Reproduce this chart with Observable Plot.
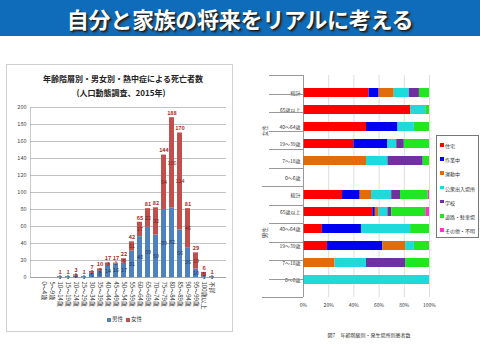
<!DOCTYPE html>
<html><head><meta charset="utf-8">
<script src="https://cdn.jsdelivr.net/npm/d3@7"></script>
<script src="https://cdn.jsdelivr.net/npm/@observablehq/plot@0.6"></script>
<style>
body{margin:0;background:#fff;font-family:"Noto Sans CJK JP","Noto Sans",sans-serif;}
#root{position:relative;width:480px;height:360px;overflow:hidden;background:#fff;}
.abs{position:absolute;}
.ctr{position:absolute;transform:translate(-50%,-50%);white-space:nowrap;line-height:1;}
#banner{left:0;top:0;width:480px;height:36px;background:#0e6cba;color:#fff;font-weight:700;font-size:22px;text-align:center;line-height:36px;text-shadow:1px 1px 1px #1a1a1a,2px 2px 2px #333;letter-spacing:-0.3px;}
#lframe{left:6px;top:64px;width:225px;height:266px;border:1px solid #d0d0d0;}
.hl{position:absolute;height:0;border-top:1px solid #999;}
.vl{position:absolute;width:0;border-left:1px solid #c8c8c8;}
.sw{position:absolute;width:4px;height:4px;}
.lg{position:absolute;white-space:nowrap;line-height:1;transform:translateY(-50%);}
svg{overflow:visible;}
</style></head>
<body><div id="root">
<div id="banner" class="abs">自分と家族の将来をリアルに考える</div>
<div id="lframe" class="abs"></div>
<div class="ctr" style="left:123px;top:79px;font-size:8px;font-weight:700;color:#222;">年齢階層別・男女別・熱中症による死亡者数</div>
<div class="ctr" style="left:121px;top:93px;font-size:8px;font-weight:700;color:#222;">(人口動態調査、2015年)</div>
<div class="vl" style="left:30px;top:107px;height:170px;"></div>
<div id="left" class="abs" style="left:6px;top:64px;"></div>
<div id="right" class="abs" style="left:245px;top:70px;"></div>
<div id="legL"></div>
<div id="legR" class="abs" style="left:436px;top:135px;width:41px;height:101px;border:1px solid #777;"></div>
<div id="lines"></div>
<div class="ctr" style="left:369px;top:334px;font-size:5px;color:#333;">図7　年齢階級別・発生場所別患者数</div>
</div>
<script>
const FONT = '"Noto Sans CJK JP","Noto Sans",sans-serif';

// ---- left chart data ----
const ages = ["0～4歳","5～9歳","10～14歳","15～19歳","20～24歳","25～29歳","30～34歳","35～39歳","40～44歳","45～49歳","50～54歳","55～59歳","60～64歳","65～69歳","70～74歳","75～79歳","80～84歳","85～89歳","90～94歳","95～99歳","100歳以上","不詳"];
const male   = [0,0,1,1,2,1,5,8,14,16,17,31,48,59,50,80,82,56,35,10,1,1];
const female = [0,0,0,0,1,0,2,2,3,1,5,11,17,22,32,64,106,114,46,19,5,0];
const sexes = ["男性","女性"];
const sexColors = ["#4f81bd","#c0504d"];
const yTicks = [0,20,40,60,80,100,120,140,160,180,200];

// ---- right chart data ----
const groups = ["女性","男性"];
const rowLabels = ["総計","65歳以上","40～64歳","19～39歳","7～18歳","0～6歳"];
const places = ["住宅","作業中","運動中","公衆出入場所","学校","道路・駐車場","その他・不明"];
const placeColors = ["#ff0000","#0000f0","#e36c0a","#1edada","#7030a0","#22e622","#ff33cc"];
// percentages per place, rows: 女性(総計,65+,40-64,19-39,7-18,0-6), 男性(same)
const pctHome   = [52,85,50,40,0,0, 31,55,15,19,0,0];
const pctWork   = [8,0,25,27,0,0, 14,2,31,44,0,0];
const pctSport  = [12,0,0,0,50,0, 9,3,0,18,25,0];
const pctPublic = [12,12,13,7,17,0, 16,7,39,7,25,100];
const pctSchool = [8,0,0,6,28,0, 7,3,0,0,31,0];
const pctRoad   = [8,3,12,20,5,0, 22,27,15,12,19,0];
const pctOther  = [0,0,0,0,0,0, 1,3,0,0,0,0];
const pctTicks = [0,20,40,60,80,100];

// ---- left chart ----
const rows = ages.flatMap((a,i)=>[{age:a,sex:sexes[0],v:male[i]},{age:a,sex:sexes[1],v:female[i]}]);
const totals = ages.map((a,i)=>({age:a,t:male[i]+female[i]})).filter(d=>d.t>0);

const left = Plot.plot({
  width:226, height:267,
  marginTop:43, marginBottom:54, marginLeft:24, marginRight:6,
  style:{fontFamily:FONT, fontSize:"5.5px", color:"#333", background:"none"},
  x:{domain:ages, padding:0.34, label:null},
  y:{domain:[0,200], label:null},
  color:{domain:sexes, range:sexColors},
  marks:[
    Plot.gridY(yTicks.slice(1), {stroke:"#a6a6a6", strokeOpacity:1, strokeWidth:0.7}),
    Plot.axisY(yTicks, {tickSize:0, tickPadding:4, label:null, fontSize:5.5, fill:"#444"}),
    Plot.barY(rows, Plot.stackY({x:"age", y:"v", fill:"sex", order:sexes})),
    Plot.ruleY([0], {stroke:"#8c8c8c", strokeWidth:0.8}),
    Plot.axisX({tickSize:0, tickRotate:90, tickPadding:4, label:null, fontSize:6, fill:"#333"}),
    Plot.text(rows, Plot.stackY({x:"age", y:"v", z:"sex", order:sexes,
      text:d=>d.sex===sexes[0] && d.v>0 ? String(d.v) : "", fill:"#22375e", fontSize:5.5})),
    Plot.text(rows, Plot.stackY({x:"age", y:"v", z:"sex", order:sexes,
      text:d=>d.sex===sexes[1] && d.v>0 ? String(d.v) : "", fill:"#7a1d1d", fontSize:5.5})),
    Plot.text(totals, {x:"age", y:"t", text:d=>String(d.t), dy:-4.5, fill:"#b02a2a", fontSize:5.5, fontWeight:"bold"})
  ]
});
document.getElementById("left").appendChild(left);

// left legend
const legL = document.getElementById("legL");
[[107,0],[126,1]].forEach(([x,i])=>{
  legL.insertAdjacentHTML("beforeend",
    `<div class="sw" style="left:${x}px;top:318px;background:${sexColors[i]}"></div>`+
    `<div class="lg" style="left:${x+5}px;top:320px;font-size:5.5px;color:#333">${sexes[i]}</div>`);
});

// ---- right chart ----
const rowKeys = groups.flatMap(g=>rowLabels.map(r=>g+"|"+r));
const pctArrays = [pctHome,pctWork,pctSport,pctPublic,pctSchool,pctRoad,pctOther];
const segs = rowKeys.flatMap((k,i)=>places.map((p,j)=>({key:k, place:p, pct:pctArrays[j][i]}))).filter(d=>d.pct>0);

const right = Plot.plot({
  width:190, height:245,
  marginTop:5, marginBottom:18, marginLeft:58, marginRight:6,
  style:{fontFamily:FONT, fontSize:"5px", color:"#333", background:"none"},
  x:{domain:[0,100], label:null},
  y:{domain:rowKeys, padding:0.45, label:null},
  color:{domain:places, range:placeColors},
  marks:[
    Plot.gridX(pctTicks.slice(1), {stroke:"#d0d0d0", strokeOpacity:1, strokeWidth:0.7}),
    Plot.barX(segs, Plot.stackX({y:"key", x:"pct", fill:"place", order:places})),
    Plot.ruleX([0], {stroke:"#808080", strokeWidth:0.8}),
    Plot.axisX(pctTicks, {tickSize:0, tickPadding:6, tickFormat:d=>d+"%", fontSize:5, label:null}),
    Plot.axisY({tickSize:0, tickPadding:3, tickFormat:k=>k.split("|")[1], fontSize:5, label:null}),
    Plot.text(groups, {y:g=>g+"|40～64歳", text:d=>d, frameAnchor:"left", dx:-38, dy:9.25, rotate:-90, fontSize:5.5, fill:"#333"})
  ]
});
document.getElementById("right").appendChild(right);

// category axis separator lines (right chart)
const lines = document.getElementById("lines");
for (let i=0;i<=12;i++){
  const y = 75 + i*18.5;
  const x0 = (i===6||i===12) ? 262 : 269;
  lines.insertAdjacentHTML("beforeend", `<div class="hl" style="left:${x0}px;top:${y}px;width:${303-x0}px;"></div>`);
}

// right legend
const legR = document.getElementById("legR");
places.forEach((p,i)=>{
  const y = 9 + i*14.2;
  legR.insertAdjacentHTML("beforeend",
    `<div class="sw" style="left:3px;top:${y-2}px;width:3.5px;height:3.5px;background:${placeColors[i]}"></div>`+
    `<div class="lg" style="left:8px;top:${y}px;font-size:5px;color:#333">${p}</div>`);
});
</script>
</body></html>
